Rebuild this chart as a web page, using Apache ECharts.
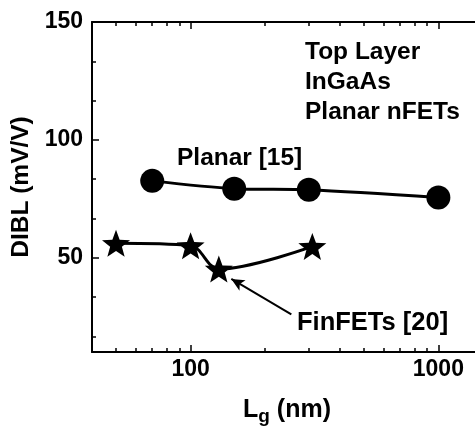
<!DOCTYPE html>
<html>
<head>
<meta charset="utf-8">
<script src="https://cdn.jsdelivr.net/npm/echarts@6/dist/echarts.min.js"></script>
<style>
html,body{margin:0;padding:0;background:#fff;overflow:hidden;width:475px;height:432px;}
#c{width:490px;height:432px;}
</style>
</head>
<body>
<div id="c"></div>
<script>
// ---- data ----
const planarLg = [70, 150, 300, 1000];
const planarDIBL = [82.6, 79.3, 78.8, 75.5];
const finLg = [50, 100, 130, 310];
const finDIBL = [56.1, 55.1, 45.2, 54.8];
const xMajorTicks = [100, 1000];
const xMinorTicks = [50, 60, 70, 80, 90, 200, 300, 400, 500, 600, 700, 800, 900];
const yMajorTicks = [50, 100, 150];
const yMinorTicks = [16.67, 33.33, 66.67, 83.33, 116.67, 133.33];
const xRange = [40, 1500];
const yRange = [10, 150];
const arrowFrom = [255, 26];
const arrowTo = [146, 41];

const FONT = '"Liberation Sans", Arial, sans-serif';
const STAR = 'path://M50 0 L62.34 33.01 L97.55 34.55 L69.97 56.49 L79.39 90.45 L50 71 L20.61 90.45 L30.03 56.49 L2.45 34.55 L37.66 33.01 Z';

function xAxis(pos, ticks, len, showLine, withLabel) {
  const a = {
    type: 'log', logBase: 10, position: pos, min: xRange[0], max: xRange[1],
    gridIndex: 0,
    axisLine: {show: showLine, lineStyle: {color: '#000', width: 2}},
    axisTick: {show: true, inside: true, length: len, customValues: ticks, lineStyle: {color: '#000', width: 1.5}},
    axisLabel: {show: false},
    splitLine: {show: false}, minorTick: {show: false}, minorSplitLine: {show: false}
  };
  if (withLabel) {
    a.axisLabel = {show: true, customValues: ticks, margin: 6, color: '#000', fontSize: 23, fontWeight: 'bold', fontFamily: FONT,
      formatter: v => String(Math.round(v))};
    a.name = '{m|L}{s|g}{m| (nm)}';
    a.nameLocation = 'middle';
    a.nameGap = 46;
    a.nameTextStyle = {
      color: '#000', fontFamily: FONT,
      rich: {
        m: {fontSize: 25, fontWeight: 'bold', fontFamily: FONT, color: '#000', verticalAlign: 'top', lineHeight: 27},
        s: {fontSize: 19, fontWeight: 'bold', fontFamily: FONT, color: '#000', verticalAlign: 'top', lineHeight: 27, padding: [9, 0, 0, 0]}
      }
    };
  }
  return a;
}
function yAxis(pos, ticks, len, showLine, withLabel) {
  const a = {
    type: 'value', position: pos, min: yRange[0], max: yRange[1],
    gridIndex: 0,
    axisLine: {show: showLine, lineStyle: {color: '#000', width: 2}},
    axisTick: {show: true, inside: true, length: len, customValues: ticks, lineStyle: {color: '#000', width: 1.5}},
    axisLabel: {show: false},
    splitLine: {show: false}, minorTick: {show: false}
  };
  if (withLabel) {
    a.axisLabel = {show: true, customValues: ticks, margin: 9, color: '#000', fontSize: 23, fontWeight: 'bold', fontFamily: FONT};
    a.name = 'DIBL (mV/V)';
    a.nameLocation = 'middle';
    a.nameGap = 54;
    a.nameTextStyle = {color: '#000', fontSize: 24.5, fontWeight: 'bold', fontFamily: FONT};
  }
  return a;
}

const chart = echarts.init(document.getElementById('c'), null, {renderer: 'canvas'});
chart.setOption({
  animation: false,
  backgroundColor: '#fff',
  grid: {left: 92, top: 22, width: 390, height: 330, containLabel: false},
  xAxis: [
    xAxis('bottom', xMajorTicks, 7, true, true),
    xAxis('bottom', xMinorTicks, 4, false, false),
    xAxis('top', xMajorTicks, 7, true, false),
    xAxis('top', xMinorTicks, 4, false, false)
  ],
  yAxis: [
    yAxis('left', yMajorTicks, 7, true, true),
    yAxis('left', yMinorTicks, 4, false, false),
    yAxis('right', yMajorTicks, 7, true, false),
    yAxis('right', yMinorTicks, 4, false, false)
  ],
  series: [
    {
      name: 'Planar [15]', type: 'line', xAxisIndex: 0, yAxisIndex: 0,
      data: planarLg.map((x, i) => [x, planarDIBL[i]]),
      smooth: 0.3, symbol: 'circle', symbolSize: 24,
      itemStyle: {color: '#000'}, lineStyle: {color: '#000', width: 3}
    },
    {
      name: 'FinFETs [20]', type: 'line', xAxisIndex: 0, yAxisIndex: 0,
      data: finLg.map((x, i) => [x, finDIBL[i]]),
      smooth: 0.35, symbol: STAR, symbolSize: [28, 27],
      itemStyle: {color: '#000'}, lineStyle: {color: '#000', width: 3},
      markLine: {
        silent: true, animation: false,
        symbol: ['none', 'arrow'], symbolSize: [9, 13],
        label: {show: false},
        lineStyle: {color: '#000', width: 2, type: 'solid'},
        data: [[{coord: arrowFrom}, {coord: arrowTo}]]
      }
    }
  ],
  graphic: [
    {type: 'text', x: 305, y: 37, style: {text: 'Top Layer\nInGaAs\nPlanar nFETs', font: 'bold 24.5px ' + FONT, lineHeight: 30, fill: '#000'}},
    {type: 'text', x: 177, y: 158, style: {text: 'Planar [15]', font: 'bold 24.5px ' + FONT, verticalAlign: 'middle', fill: '#000'}},
    {type: 'text', x: 297, y: 323, style: {text: 'FinFETs [20]', font: 'bold 25.5px ' + FONT, verticalAlign: 'middle', fill: '#000'}}
  ]
});
</script>
</body>
</html>
